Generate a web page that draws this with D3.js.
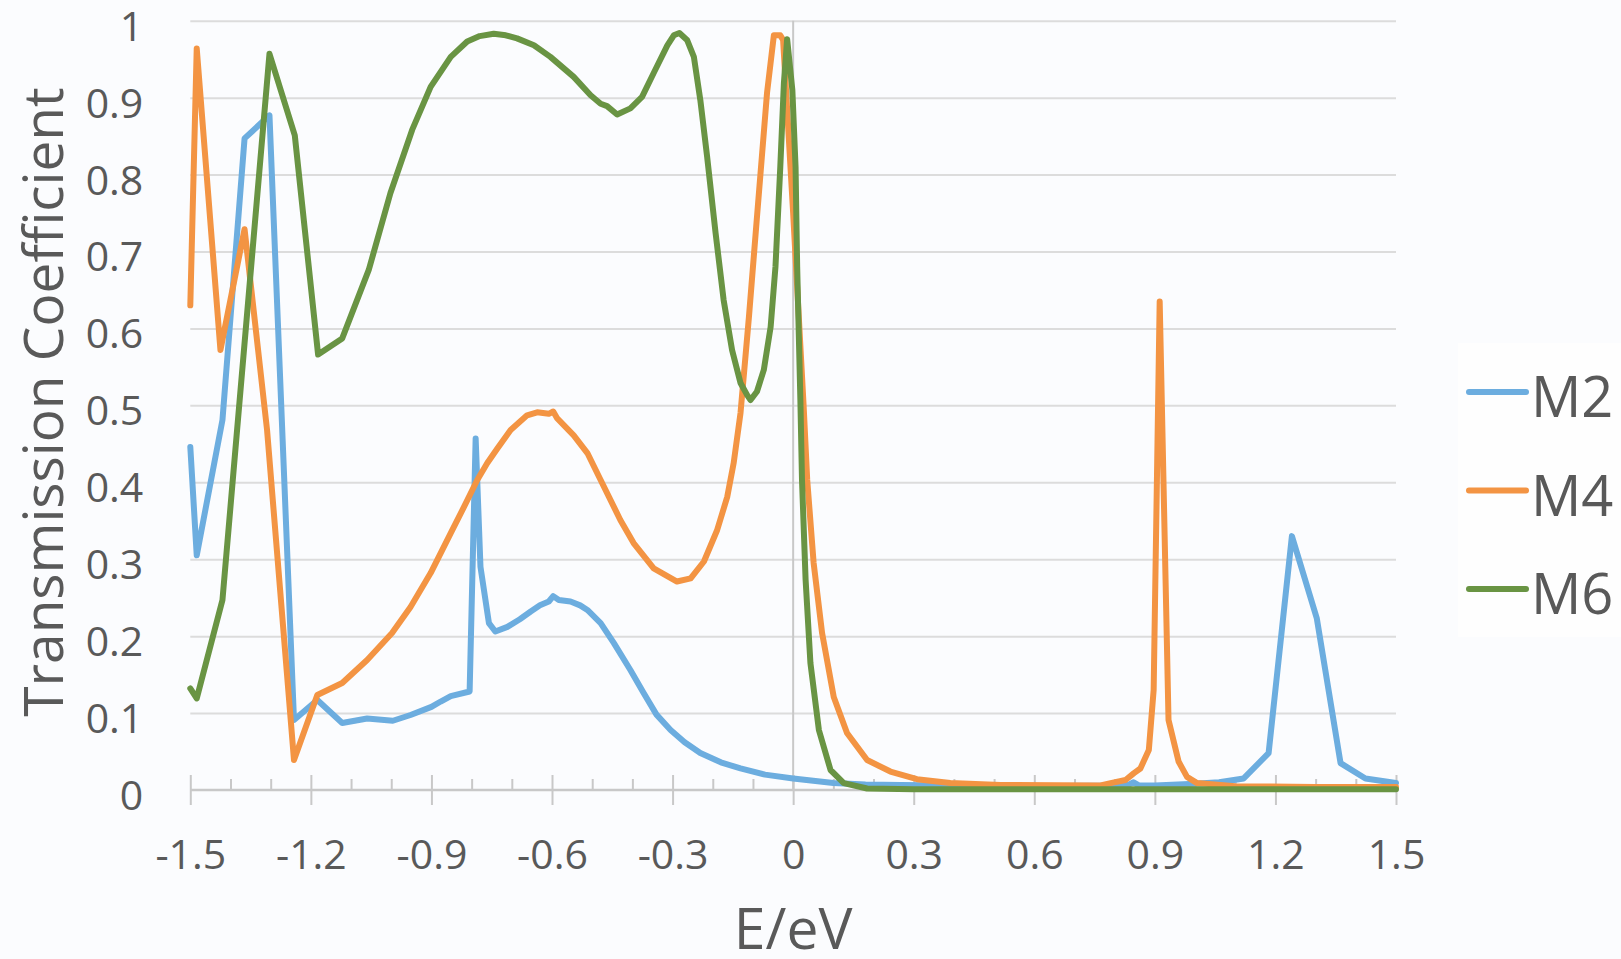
<!DOCTYPE html>
<html>
<head>
<meta charset="utf-8">
<script src="https://cdn.jsdelivr.net/npm/d3@7"></script>
<style>
  html, body { margin: 0; padding: 0; background: #ffffff; }
  svg { display: block; }
  text { font-family: "Open Sans", "Noto Sans", sans-serif; fill: #595959; }
</style>
</head>
<body>
<svg id="chart" width="1621" height="959"></svg>
<script>
// ---------------- data ----------------
const seriesNames = ["M2", "M4", "M6"];
const seriesColors = ["#6CADDF", "#F39443", "#699443"];

const xTickValues = [-1.5, -1.2, -0.9, -0.6, -0.3, 0, 0.3, 0.6, 0.9, 1.2, 1.5];
const xTickLabels = ["-1.5", "-1.2", "-0.9", "-0.6", "-0.3", "0", "0.3", "0.6", "0.9", "1.2", "1.5"];
const xMinorTicks = [-1.4, -1.3, -1.1, -1.0, -0.8, -0.7, -0.5, -0.4, -0.2, -0.1, 0.1, 0.2, 0.4, 0.5, 0.7, 0.8, 1.0, 1.1, 1.3, 1.4];
const yTickValues = [0, 0.1, 0.2, 0.3, 0.4, 0.5, 0.6, 0.7, 0.8, 0.9, 1];
const yTickLabels = ["0", "0.1", "0.2", "0.3", "0.4", "0.5", "0.6", "0.7", "0.8", "0.9", "1"];

const xTitle = "E/eV";
const yTitle = "Transmission Coefficient";

const m2 = [
  [-1.5, 0.446], [-1.484, 0.305], [-1.42, 0.481], [-1.365, 0.847], [-1.303, 0.877],
  [-1.242, 0.091], [-1.184, 0.117], [-1.122, 0.087], [-1.06, 0.093], [-0.996, 0.09],
  [-0.952, 0.0975], [-0.9, 0.108], [-0.877, 0.115], [-0.852, 0.122], [-0.805, 0.128],
  [-0.79, 0.457], [-0.778, 0.29], [-0.757, 0.217], [-0.741, 0.206], [-0.711, 0.212],
  [-0.68, 0.222], [-0.653, 0.232], [-0.63, 0.24], [-0.608, 0.245], [-0.597, 0.252],
  [-0.583, 0.247], [-0.554, 0.245], [-0.53, 0.24], [-0.512, 0.234], [-0.479, 0.217],
  [-0.446, 0.191], [-0.405, 0.156], [-0.372, 0.126], [-0.34, 0.098], [-0.305, 0.078],
  [-0.27, 0.062], [-0.231, 0.048], [-0.18, 0.036], [-0.131, 0.028], [-0.07, 0.02],
  [0, 0.015], [0.05, 0.012], [0.1, 0.009], [0.18, 0.007], [0.267, 0.0065],
  [0.4, 0.006], [0.6, 0.005], [0.8, 0.006], [0.835, 0.007], [0.847, 0.01],
  [0.86, 0.006], [0.9, 0.006], [1.0, 0.008], [1.06, 0.01], [1.121, 0.015],
  [1.183, 0.048], [1.241, 0.33], [1.303, 0.223], [1.362, 0.035], [1.424, 0.015],
  [1.5, 0.009]
];

const m4 = [
  [-1.5, 0.63], [-1.484, 0.964], [-1.425, 0.572], [-1.365, 0.729], [-1.309, 0.468],
  [-1.242, 0.039], [-1.184, 0.1235], [-1.122, 0.139], [-1.06, 0.169], [-0.998, 0.204],
  [-0.952, 0.238], [-0.902, 0.282], [-0.852, 0.334], [-0.819, 0.368], [-0.786, 0.403],
  [-0.761, 0.425], [-0.736, 0.444], [-0.703, 0.468], [-0.662, 0.487], [-0.637, 0.491],
  [-0.608, 0.489], [-0.597, 0.492], [-0.587, 0.483], [-0.546, 0.461], [-0.512, 0.438],
  [-0.479, 0.403], [-0.43, 0.351], [-0.397, 0.321], [-0.347, 0.288], [-0.289, 0.271],
  [-0.255, 0.275], [-0.222, 0.297], [-0.189, 0.338], [-0.164, 0.381], [-0.148, 0.425],
  [-0.131, 0.49], [-0.11, 0.615], [-0.09, 0.745], [-0.065, 0.906], [-0.048, 0.981],
  [-0.032, 0.981], [-0.025, 0.975], [0, 0.75], [0.026, 0.5], [0.035, 0.403],
  [0.051, 0.295], [0.072, 0.204], [0.101, 0.121], [0.134, 0.074], [0.184, 0.039],
  [0.242, 0.024], [0.308, 0.014], [0.391, 0.009], [0.516, 0.0065], [0.765, 0.006],
  [0.79, 0.009], [0.827, 0.013], [0.848, 0.022], [0.864, 0.028], [0.885, 0.052],
  [0.897, 0.13], [0.912, 0.635], [0.934, 0.091], [0.959, 0.037], [0.98, 0.017],
  [1.005, 0.009], [1.1, 0.005], [1.3, 0.004], [1.5, 0.004]
];

const m6 = [
  [-1.5, 0.132], [-1.484, 0.119], [-1.42, 0.247], [-1.303, 0.957], [-1.24, 0.851],
  [-1.182, 0.566], [-1.122, 0.587], [-1.056, 0.676], [-1.002, 0.776], [-0.948, 0.858],
  [-0.902, 0.914], [-0.852, 0.953], [-0.811, 0.973], [-0.78, 0.98], [-0.745, 0.983],
  [-0.715, 0.981], [-0.687, 0.977], [-0.645, 0.968], [-0.604, 0.953], [-0.546, 0.927],
  [-0.504, 0.903], [-0.479, 0.892], [-0.463, 0.889], [-0.438, 0.878], [-0.405, 0.886],
  [-0.376, 0.901], [-0.347, 0.932], [-0.313, 0.968], [-0.297, 0.981], [-0.283, 0.984],
  [-0.264, 0.975], [-0.247, 0.953], [-0.231, 0.897], [-0.214, 0.823], [-0.193, 0.724],
  [-0.173, 0.637], [-0.152, 0.572], [-0.131, 0.529], [-0.114, 0.513], [-0.106, 0.507],
  [-0.09, 0.518], [-0.073, 0.546], [-0.056, 0.602], [-0.044, 0.68], [-0.032, 0.81],
  [-0.023, 0.919], [-0.015, 0.976], [-0.002, 0.91], [0.006, 0.81], [0.01, 0.68],
  [0.018, 0.507], [0.022, 0.403], [0.031, 0.273], [0.043, 0.165], [0.064, 0.078],
  [0.093, 0.026], [0.126, 0.009], [0.184, 0.002], [0.3, 0.001], [1.5, 0.001]
];

const seriesData = [m2, m4, m6];

// ---------------- chart ----------------
const svg = d3.select("#chart");
svg.append("rect").attr("x", 0).attr("y", 0).attr("width", 1621).attr("height", 959).attr("fill", "#fbfcfe");

const x = d3.scaleLinear().domain([-1.5, 1.5]).range([190.3, 1396]);
const y = d3.scaleLinear().domain([0, 1]).range([790, 20.7]);

// gridlines
const grid = svg.append("g").attr("transform", `translate(${x(-1.5)},0)`)
  .call(d3.axisLeft(y).tickValues(yTickValues.filter(v => v !== 0)).tickSize(-(x(1.5) - x(-1.5))).tickFormat(""));
grid.select(".domain").remove();
grid.selectAll(".tick line").attr("stroke", "#dcdcdc").attr("stroke-width", 2);

// y tick labels
const yAxisG = svg.append("g").attr("transform", `translate(${x(-1.5)},0)`)
  .call(d3.axisLeft(y).tickValues(yTickValues).tickSize(0).tickPadding(47)
    .tickFormat((d, i) => yTickLabels[i]));
yAxisG.select(".domain").remove();
yAxisG.selectAll(".tick text").attr("dy", null).attr("y", 19.5)
  .style("font-size", "41px").style("font-family", '"Open Sans", sans-serif').attr("fill", "#595959");

// vertical line at x = 0
svg.append("line").attr("x1", x(0)).attr("x2", x(0)).attr("y1", y(1)).attr("y2", y(0))
  .attr("stroke", "#c8c8c8").attr("stroke-width", 2);

// minor ticks
const minorG = svg.append("g").attr("transform", `translate(0,${y(0)})`)
  .call(d3.axisBottom(x).tickValues(xMinorTicks).tickSize(0).tickFormat(""));
minorG.select(".domain").remove();
minorG.selectAll(".tick line").attr("y1", -11).attr("y2", 0).attr("stroke", "#c8c8c8").attr("stroke-width", 2);

// x axis (major ticks + labels)
const xAxisG = svg.append("g").attr("transform", `translate(0,${y(0)})`)
  .call(d3.axisBottom(x).tickValues(xTickValues).tickSizeOuter(0)
    .tickFormat((d, i) => xTickLabels[i]));
xAxisG.select(".domain").attr("stroke", "#c8c8c8").attr("stroke-width", 2.5)
  .attr("d", `M${x(-1.5)},0H${x(1.5)}`);
xAxisG.selectAll(".tick line").attr("y1", -15).attr("y2", 15).attr("stroke", "#c8c8c8").attr("stroke-width", 2);
xAxisG.selectAll(".tick text").attr("dy", null).attr("y", 79)
  .style("font-size", "41px").style("font-family", '"Open Sans", sans-serif').attr("fill", "#595959");

// series lines
const line = d3.line().x(d => x(d[0])).y(d => y(d[1])).curve(d3.curveLinear);
const plot = svg.append("g");
seriesData.forEach((data, i) => {
  plot.append("path").datum(data).attr("d", line)
    .attr("fill", "none").attr("stroke", seriesColors[i]).attr("stroke-width", 6)
    .attr("stroke-linejoin", "round").attr("stroke-linecap", "round");
});

// axis titles
svg.append("text").attr("x", x(0)).attr("y", 949).attr("text-anchor", "middle")
  .style("font-size", "57px").text(xTitle);
svg.append("text").attr("transform", `translate(63,402) rotate(-90)`).attr("text-anchor", "middle")
  .style("font-size", "55px").text(yTitle);

// legend
svg.append("rect").attr("x", 1458).attr("y", 343).attr("width", 163).attr("height", 294).attr("fill", "#fefefe");
const legendY = d3.scalePoint().domain(seriesNames).range([392, 589]);
const lg = svg.append("g");
seriesNames.forEach((name, i) => {
  const ly = legendY(name);
  lg.append("line").attr("x1", 1469).attr("x2", 1526).attr("y1", ly).attr("y2", ly)
    .attr("stroke", seriesColors[i]).attr("stroke-width", 6).attr("stroke-linecap", "round");
  lg.append("text").attr("x", 1531).attr("y", ly + 25).style("font-size", "56px").text(name);
});
</script>
</body>
</html>
